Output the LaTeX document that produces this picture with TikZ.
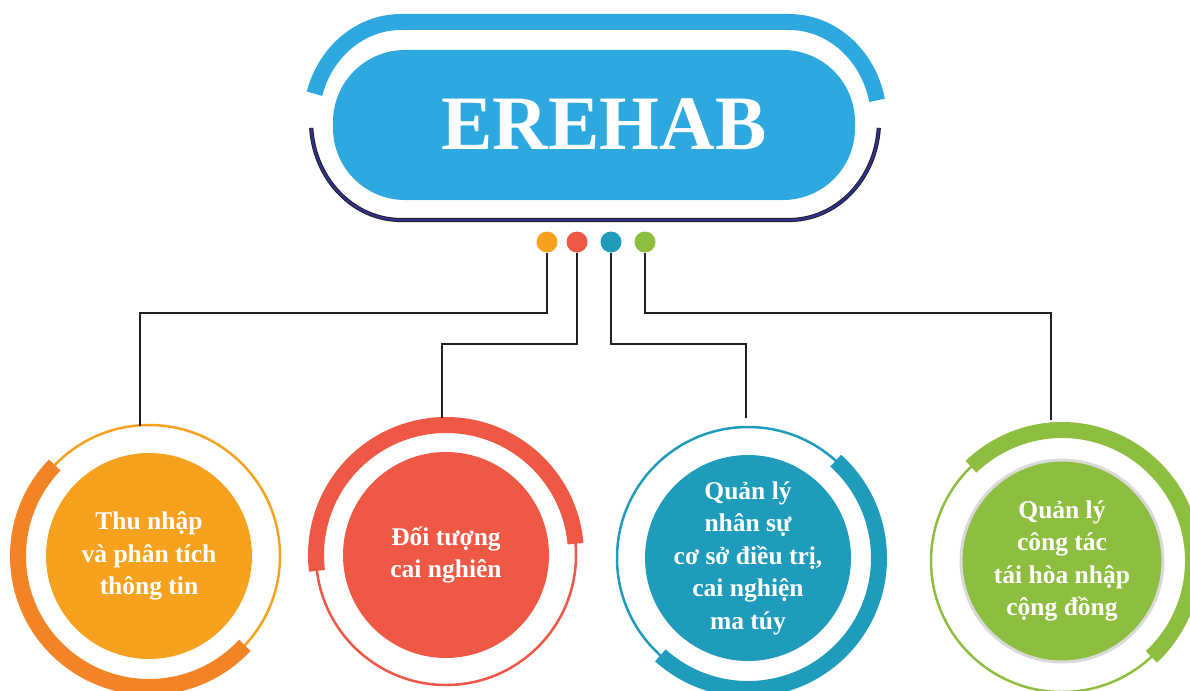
\documentclass[tikz,border=0pt]{standalone}
\usepackage{fontspec}
\setmainfont{Liberation Serif}
\usetikzlibrary{positioning}
\definecolor{hblue}{HTML}{2EA9E0}
\definecolor{rimnavy}{HTML}{2E3192}
\definecolor{corange}{HTML}{F6A21E}
\definecolor{cdorange}{HTML}{F28326}
\definecolor{cred}{HTML}{EE5845}
\definecolor{cteal}{HTML}{1F9CBB}
\definecolor{cgreen}{HTML}{8DBE3F}
\definecolor{wirec}{HTML}{231F20}

\begin{document}
\begin{tikzpicture}[x=1pt, y=-1pt,
    wire/.style={draw=wirec, line width=1.3pt},
    dot/.style={circle, inner sep=0pt, minimum size=21pt},
    topic/.style={circle, inner sep=-15pt, minimum size=206pt, text=white, align=center,
        font=\fontsize{25.5}{32.5}\selectfont\bfseries},
    ring/.style={line width=2.5pt},
    band/.style={line width=16pt}]
    \useasboundingbox (0,0) rectangle (1190,690);

    \draw[hblue, line width=16pt] (401,121) ++(164:90pt and 99pt)
        arc[start angle=164, end angle=90, x radius=90pt, y radius=99pt] -- (789,22)
        arc[start angle=90, end angle=12, x radius=90pt, y radius=99pt];
    \draw[draw=wirec, line width=1pt, double=rimnavy, double distance=2.2pt] (401,121) ++(184:90pt and 99pt)
        arc[start angle=184, end angle=270, x radius=90pt, y radius=99pt] -- (789,220)
        arc[start angle=270, end angle=356, x radius=90pt, y radius=99pt];
    \node[fill=hblue, rounded corners=72pt, minimum width=522pt, minimum height=150pt, inner sep=0pt] (title) at (594,125) {};
    \node[text=white, font=\fontsize{77}{80}\selectfont\bfseries] (name) at (604,124) {EREHAB};

    \node[dot, fill=corange] (dotA) at (547,242) {};
    \node[dot, fill=cred] (dotB) at (577,242) {};
    \node[dot, fill=cteal] (dotC) at (611,242) {};
    \node[dot, fill=cgreen] (dotD) at (645,242) {};

    \node[topic, fill=corange] (infoA) at (149,556) {Thu nhập\\và phân tích\\thông tin};
    \draw[corange, ring] (infoA.center) circle[radius=131pt];
    \draw[cdorange, band] (infoA.center) ++(136:131pt) arc[start angle=136, end angle=317, radius=131pt];

    \node[topic, fill=cred] (infoB) at (446,555) {Đối tượng\\cai nghiên};
    \draw[cred, ring] (infoB.center) circle[radius=130pt];
    \draw[cred, band] (infoB.center) ++(5:130pt) arc[start angle=5, end angle=187, radius=130pt];

    \node[topic, fill=cteal] (infoC) at (748,558) {Quản lý\\nhân sự\\cơ sở điều trị,\\cai nghiện\\ma túy};
    \draw[cteal, ring] (infoC.center) circle[radius=131pt];
    \draw[cteal, band] (infoC.center) ++(-132:131pt) arc[start angle=-132, end angle=48, radius=131pt];

    \node[topic, fill=cgreen, draw=black!15, line width=3pt, minimum size=202pt] (infoD) at (1062,561) {Quản lý\\công tác\\tái hòa nhập\\cộng đồng};
    \draw[cgreen, ring] (infoD.center) circle[radius=131pt];
    \draw[cgreen, band] (infoD.center) ++(-47:131pt) arc[start angle=-47, end angle=134, radius=131pt];

    \coordinate (inA) at (140,426);
    \coordinate (inB) at (442,418);
    \coordinate (inC) at (746,418);
    \coordinate (inD) at (1051,420);
    \draw[wire] (dotA) -- (dotA |- 0,313) -| (inA);
    \draw[wire] (dotB) -- (dotB |- 0,344) -| (inB);
    \draw[wire] (dotC) -- (dotC |- 0,344) -| (inC);
    \draw[wire] (dotD) -- (dotD |- 0,313) -| (inD);
\end{tikzpicture}
\end{document}
